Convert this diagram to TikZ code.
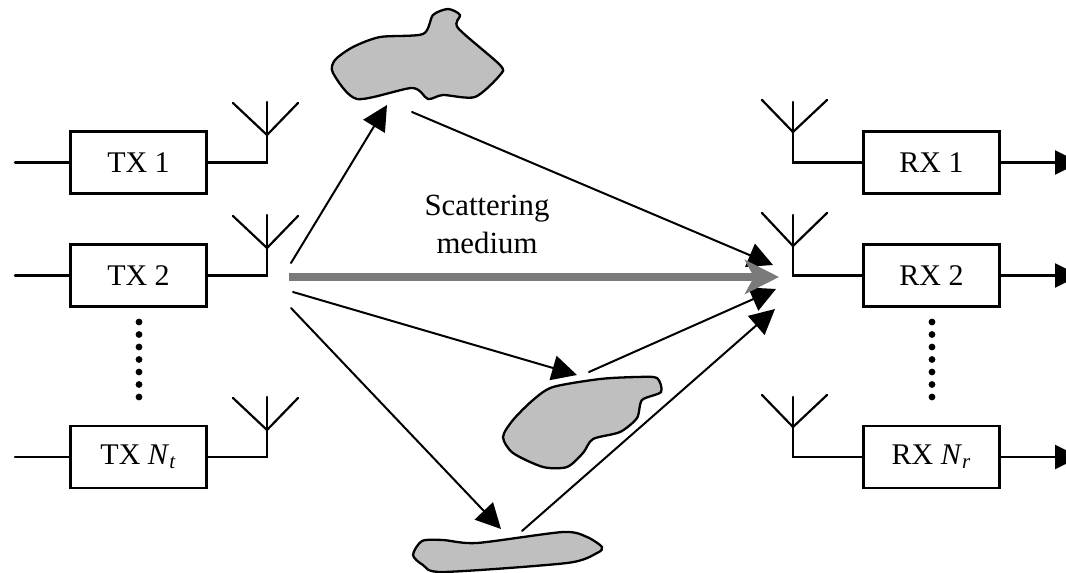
\documentclass[tikz,border=0pt]{standalone}
\usepackage{fontspec}
\setmainfont{Liberation Serif}
\usetikzlibrary{arrows.meta}

\begin{document}
\begin{tikzpicture}
		[x=.5pt,y=-.5pt,line cap=round,
		%Styles
		radio box/.style={draw,line width=1.15pt,minimum width=68pt,minimum height=31pt,inner sep=0pt,font=\fontsize{15}{18}\selectfont},
		wire/.style={line width=1.1pt},
		ray/.style={line width=1pt,-{Triangle[length=12.5pt,width=12.5pt]}},
		main ray/.style={draw=raycolor,line width=4pt,line cap=butt,-{Stealth[length=17pt,width=17pt,inset=4.5pt]}},
		scatterer/.style={draw,line width=1.15pt,fill=scattercolor},
		dot/.style={circle,inner sep=0pt,minimum size=3.4pt,fill}
		]
		
		%Colors
		\colorlet{raycolor}{black!52}	%direct path
		\colorlet{scattercolor}{black!25}	%scatterers
		
		\path[use as bounding box,clip] (0,0) rectangle (1066,573);
		
		%The boxes
		\node[radio box] (tx1) at (138.5,162.5) {TX 1};
		\node[radio box] (tx2) at (138.5,275.5) {TX 2};
		\node[radio box] (txn) at (138.5,457) {TX \textit{N}\textsubscript{\textit{t}}};
		\node[radio box] (rx1) at (931.5,162.5) {RX 1};
		\node[radio box] (rx2) at (931.5,275.5) {RX 2};
		\node[radio box] (rxn) at (931.5,457) {RX \textit{N}\textsubscript{\textit{r}}};
		
		%Wires and antennas
		\foreach \name/\y/\joint/\top in {1/162.5/135/102,2/275.5/248/215,n/457/430/397}{
			\coordinate (txin\name) at (15,\y);
			\coordinate (txfoot\name) at (267,\y);
			\coordinate (txjoint\name) at (267,\joint);
			\draw[wire] (txin\name) -- (tx\name);
			\draw[wire] (tx\name) -- (txfoot\name) -- (txjoint\name) -- (267,\top);
			\draw[wire] (233,\top+1) -- (txjoint\name) -- (298,\top+1);
		}
		\foreach \name/\y/\joint/\top in {1/162.5/132/102,2/275.5/246/215,n/457/427/397}{
			\coordinate (rxout\name) at (1080,\y);
			\coordinate (rxfoot\name) at (793,\y);
			\coordinate (rxjoint\name) at (793,\joint);
			\draw[wire,-{Triangle[length=12.5pt,width=12pt]}] (rx\name) -- (rxout\name);
			\draw[wire] (rx\name) -- (rxfoot\name) -- (rxjoint\name) -- (793,\top);
			\draw[wire] (762,\top-2) -- (rxjoint\name) -- (827,\top-2);
		}
		
		%Dots between the rows
		\foreach \i in {0,...,6}{
			\node[dot] (txdot\i) at (139,322+12.5*\i) {};
			\node[dot] (rxdot\i) at (932,322+12.5*\i) {};
		}
		
		%The scatterers
		\draw[scatterer] plot[smooth cycle,tension=.45] coordinates {(333,73) (335,60) (353,47) (380,37) (423,34) (433,15) (448,9) (460,15) (458,28) (500,65) (500,75) (475,97) (443,95) (428,99) (412,88) (357,99)};
		\draw[scatterer] plot[smooth cycle,tension=.45] coordinates {(553,387) (600,379) (637,377) (657,378) (661,392) (642,400) (637,418) (620,432) (593,439) (583,453) (567,467) (543,467) (513,453) (503,437) (513,420) (533,400)};
		\draw[scatterer] plot[smooth cycle,tension=.45] coordinates {(422,541) (443,540) (477,543) (563,532) (587,537) (602,547) (597,553) (567,563) (443,572) (423,565) (413,555)};
		
		%The rays
		\coordinate (upstart) at (291,263);
		\coordinate (uptip) at (387,105);
		\coordinate (upback) at (412,112);
		\coordinate (upend) at (773,265);
		\coordinate (midstart) at (293,292);
		\coordinate (midtip) at (577,375);
		\coordinate (midback) at (589,372);
		\coordinate (midend) at (776,289);
		\coordinate (lowstart) at (291,308);
		\coordinate (lowtip) at (501,529);
		\coordinate (lowback) at (522,531);
		\coordinate (lowend) at (775,309);
		\coordinate (directstart) at (289,277);
		\coordinate (directend) at (779,277);
		\draw[ray] (upstart) -- (uptip);
		\draw[ray] (upback) -- (upend);
		\draw[ray] (midstart) -- (midtip);
		\draw[ray] (midback) -- (midend);
		\draw[ray] (lowstart) -- (lowtip);
		\draw[ray] (lowback) -- (lowend);
		\draw[main ray] (directstart) -- (directend);
		
		\node[font=\fontsize{15.4}{18}\selectfont,align=center,inner sep=0pt] (medium) at (487,224) {Scattering\\[1pt]medium};
	\end{tikzpicture}
\end{document}
